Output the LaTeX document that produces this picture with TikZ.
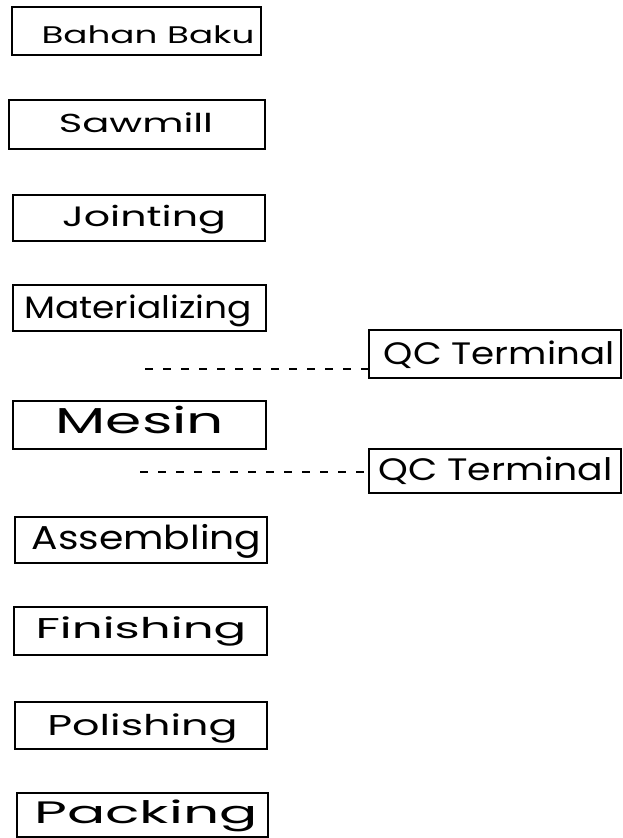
\documentclass[tikz,border=0pt]{standalone}
\usepackage{fontspec}
\setmainfont{Poppins}
\begin{document}
\begin{tikzpicture}[x=1pt,y=-1pt,
  stepbox/.style={draw=black,line width=1.8pt,inner sep=0pt,outer sep=0pt,anchor=north west},
  steplabel/.style={anchor=base,inner sep=0pt,outer sep=0pt},
  qcline/.style={line width=1.4pt,dash pattern=on 8pt off 10pt}]
\useasboundingbox (0,0) rectangle (623,838);
% boxes: name, left, top, width, height
\newcommand\bx[5]{\node[stepbox,minimum width=#4pt,minimum height=#5pt] (#1) at (#2,#3) {};}
% labels: name, center x, baseline y, font size, horizontal scale, text
\newcommand\lb[6]{\node[steplabel] (#1) at (#2,#3) {\scalebox{#5}[1]{\fontsize{#4}{#4}\selectfont #6}};}
\bx{b1}{12}{7}{249}{48}
\bx{b2}{9}{100}{256}{49}
\bx{b3}{13}{195}{252}{46}
\bx{b4}{13}{285}{253}{46}
\bx{qc1}{369}{330}{252}{48}
\bx{b5}{13}{401}{253}{48}
\bx{qc2}{369}{449}{252}{44}
\bx{b6}{15}{517}{252}{46}
\bx{b7}{14}{607}{253}{48}
\bx{b8}{15}{702}{252}{47}
\bx{b9}{17}{793}{251}{44}
\lb{t1}{148}{43}{24}{1.49}{Bahan Baku}
\lb{t2}{136}{132}{26}{1.54}{Sawmill}
\lb{t3}{144}{226}{28}{1.47}{Jointing}
\lb{t4}{138}{318.5}{31}{1.16}{Materializing}
\lb{tq1}{499}{364}{31}{1.2}{QC Terminal}
\lb{t5}{140}{433}{36}{1.62}{Mesin}
\lb{tq2}{495.5}{480}{31}{1.22}{QC Terminal}
\lb{t6}{146.5}{549.5}{33}{1.19}{Assembling}
\lb{t7}{141}{638}{28.6}{1.69}{Finishing}
\lb{t8}{142.5}{735}{28.6}{1.5}{Polishing}
\lb{t9}{146}{823}{31}{1.83}{Packing}
\coordinate (d1) at (145,369);
\coordinate (d2) at (140,472);
\draw[qcline] (d1) -- (d1 -| qc1.west);
\draw[qcline] (d2) -- (d2 -| qc2.west);
\end{tikzpicture}
\end{document}
